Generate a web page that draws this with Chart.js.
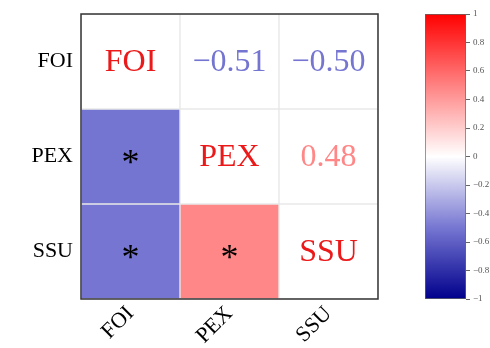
<!DOCTYPE html>
<html>
<head>
<meta charset="utf-8">
<script src="https://cdn.jsdelivr.net/npm/chart.js@4"></script>
<style>
  body { margin: 0; background: #fff; }
  #wrap { position: relative; width: 490px; height: 348px; }
  #main { position: absolute; left: 0; top: 0; }
  #bar { position: absolute; left: 400px; top: 0; }
</style>
</head>
<body>
<div id="wrap">
  <canvas id="main" width="490" height="348"></canvas>
  <canvas id="bar" width="90" height="348"></canvas>
</div>
<script>
const labels = ['FOI', 'PEX', 'SSU'];
const rowFOI = [1, -0.51, -0.50];
const rowPEX = [-0.51, 1, 0.48];
const rowSSU = [-0.50, 0.48, 1];
const corr = [rowFOI, rowPEX, rowSSU];
const rowTicks = [0.5, 1.5, 2.5];
const barTicks = [-1, -0.8, -0.6, -0.4, -0.2, 0, 0.2, 0.4, 0.6, 0.8, 1];

const serif = '"Liberation Serif", "DejaVu Serif", serif';

// navy - white - red colour map
const stops = [
    [-1, [0, 0, 140]],
    [-0.5, [118, 118, 210]],
    [0, [255, 255, 255]],
    [0.5, [255, 130, 130]],
    [1, [255, 0, 0]]
];
function cmap(v) {
    for (let k = 0; k < stops.length - 1; k++) {
        const [a, ca] = stops[k];
        const [b, cb] = stops[k + 1];
        if (v >= a && v <= b) {
            const t = (v - a) / (b - a);
            const c = ca.map((x, n) => Math.round(x + (cb[n] - x) * t));
            return `rgb(${c[0]},${c[1]},${c[2]})`;
        }
    }
    return '#fff';
}

const datasets = corr.map((row, i) => ({
    data: row.map(() => [i, i + 1]),
    backgroundColor: row.map((v, j) => j < i ? cmap(v) : '#ffffff'),
    borderColor: '#e8e8e8',
    borderWidth: 1,
    borderSkipped: false,
    grouped: false,
    barPercentage: 1,
    categoryPercentage: 1
}));

const cellText = {
    id: 'cellText',
    afterDatasetsDraw(chart) {
        const ctx = chart.ctx;
        ctx.save();
        ctx.textAlign = 'center';
        ctx.textBaseline = 'middle';
        corr.forEach((row, i) => {
            const meta = chart.getDatasetMeta(i);
            row.forEach((v, j) => {
                const el = meta.data[j];
                const cx = el.x;
                const cy = (el.y + el.base) / 2;
                if (i === j) {
                    ctx.font = '32px ' + serif;
                    ctx.fillStyle = 'rgb(235,25,25)';
                    ctx.fillText(labels[i], cx, cy + 1);
                } else if (j > i) {
                    ctx.font = '32px ' + serif;
                    ctx.fillStyle = cmap(v);
                    ctx.fillText(v.toFixed(2).replace('-', '\u2212'), cx, cy + 1);
                } else {
                    ctx.font = '36px ' + serif;
                    ctx.fillStyle = '#000';
                    ctx.fillText('*', cx, cy + 8);
                }
            });
        });
        ctx.restore();
    },
    afterDraw(chart) {
        const a = chart.chartArea;
        const ctx = chart.ctx;
        ctx.save();
        ctx.strokeStyle = '#333';
        ctx.lineWidth = 1.5;
        ctx.strokeRect(a.left, a.top, a.right - a.left, a.bottom - a.top);
        ctx.restore();
    }
};

new Chart(document.getElementById('main'), {
    type: 'bar',
    data: { labels: labels, datasets: datasets },
    options: {
        responsive: false,
        animation: false,
        layout: { padding: { top: 14, right: 112, left: 0, bottom: 0 } },
        plugins: { legend: { display: false }, tooltip: { enabled: false } },
        scales: {
            x: {
                type: 'category',
                grid: { display: false, drawTicks: false },
                border: { display: false },
                ticks: {
                    maxRotation: 45, minRotation: 45,
                    color: '#000', padding: 2,
                    font: { family: serif, size: 22 }
                },
                afterFit: ax => { ax.height = 49; ax.paddingLeft = 0; ax.paddingRight = 0; }
            },
            y: {
                type: 'linear',
                min: 0, max: 3, reverse: true,
                grid: { display: false, drawTicks: false },
                border: { display: false },
                afterBuildTicks: ax => { ax.ticks = rowTicks.map(v => ({ value: v })); },
                ticks: {
                    color: '#000', padding: 8,
                    font: { family: serif, size: 22 },
                    callback: v => labels[Math.floor(v)]
                },
                afterFit: ax => { ax.width = 81; ax.paddingTop = 0; ax.paddingBottom = 0; }
            }
        }
    },
    plugins: [cellText]
});

new Chart(document.getElementById('bar'), {
    type: 'bar',
    data: {
        labels: [''],
        datasets: [{
            data: [[-1, 1]],
            backgroundColor: c => {
                const area = c.chart.chartArea;
                if (!area) return '#fff';
                const g = c.chart.ctx.createLinearGradient(0, area.bottom, 0, area.top);
                stops.forEach(([v, col]) => g.addColorStop((v + 1) / 2, `rgb(${col.join(',')})`));
                return g;
            },
            borderColor: '#666',
            borderWidth: 1,
            borderSkipped: false,
            barPercentage: 1,
            categoryPercentage: 1
        }]
    },
    options: {
        responsive: false,
        animation: false,
        layout: { padding: { top: 14, left: 25, right: 0, bottom: 49 } },
        plugins: { legend: { display: false }, tooltip: { enabled: false } },
        scales: {
            x: { display: false },
            y: {
                position: 'right',
                min: -1, max: 1,
                grid: { drawOnChartArea: false, drawTicks: true, tickLength: 4, color: '#666' },
                border: { display: false },
                afterBuildTicks: ax => { ax.ticks = barTicks.map(v => ({ value: v })); },
                ticks: {
                    color: '#555', padding: 3,
                    font: { family: serif, size: 9 },
                    callback: v => String(Math.round(v * 10) / 10).replace('-', '\u2212')
                },
                afterFit: ax => { ax.width = 24; }
            }
        }
    }
});
</script>
</body>
</html>
